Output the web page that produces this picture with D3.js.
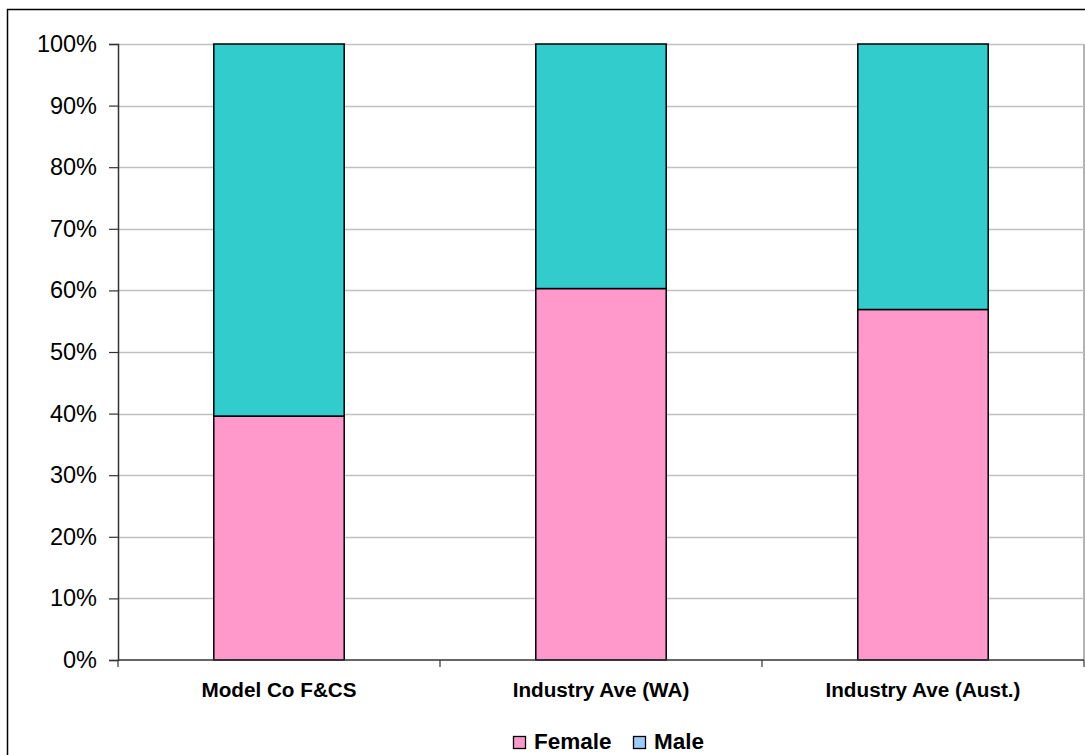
<!DOCTYPE html>
<html>
<head>
<meta charset="utf-8">
<script src="https://cdn.jsdelivr.net/npm/d3@7"></script>
<style>
  html, body { margin: 0; padding: 0; background: #fff; }
  svg { display: block; font-family: "Liberation Sans", Arial, sans-serif; }
</style>
</head>
<body>
<svg id="chart" width="1085" height="755"></svg>
<script>
// Gender split by organisation (share of headcount, %)
const categories = ["Model Co F&CS", "Industry Ave (WA)", "Industry Ave (Aust.)"];
const femaleShare = [39.6, 60.3, 56.9];
const maleShare = [60.4, 39.7, 43.1];
const seriesNames = ["Female", "Male"];
const yTicks = [0, 10, 20, 30, 40, 50, 60, 70, 80, 90, 100];

const colors = { Female: "#FF99CC", Male: "#33CCCC" };
const legendColors = { Female: "#FF99CC", Male: "#99CCFF" };

const svg = d3.select("#chart");

// outer chart frame
svg.append("rect")
  .attr("x", 7.5).attr("y", 9.5)
  .attr("width", 1090).attr("height", 760)
  .attr("fill", "#fff").attr("stroke", "#000").attr("stroke-width", 1.5);

const plot = { left: 118, right: 1084, top: 44, bottom: 660 };

const x = d3.scaleBand().domain(categories).range([plot.left, plot.right]).paddingInner(0).paddingOuter(0);
const y = d3.scaleLinear().domain([0, 100]).range([plot.bottom, plot.top]);

// plot area border on the right
svg.append("line")
  .attr("x1", plot.right).attr("x2", plot.right)
  .attr("y1", plot.top).attr("y2", plot.bottom)
  .attr("stroke", "#9a9a9a").attr("stroke-width", 1.5);

// horizontal gridlines
svg.append("g").selectAll("line")
  .data(yTicks.filter(d => d > 0))
  .join("line")
  .attr("x1", plot.left).attr("x2", plot.right)
  .attr("y1", d => Math.round(y(d)) + 0.5).attr("y2", d => Math.round(y(d)) + 0.5)
  .attr("stroke", "#c0c0c0").attr("stroke-width", 1.5);

// stacked bars
const rows = categories.map((c, i) => ({ category: c, Female: femaleShare[i], Male: maleShare[i] }));
const stacked = d3.stack().keys(seriesNames)(rows);
const barWidth = x.bandwidth() * 0.405;

svg.append("g").selectAll("g")
  .data(stacked)
  .join("g")
  .attr("fill", s => colors[s.key])
  .selectAll("rect")
  .data(s => s)
  .join("rect")
  .attr("x", d => x(d.data.category) + (x.bandwidth() - barWidth) / 2)
  .attr("width", barWidth)
  .attr("y", d => y(d[1]))
  .attr("height", d => y(d[0]) - y(d[1]))
  .attr("stroke", "#000").attr("stroke-width", 1.5);

// y axis
const yAxis = svg.append("g")
  .attr("transform", `translate(${plot.left},0)`)
  .call(d3.axisLeft(y).tickValues(yTicks).tickSize(9).tickPadding(12).tickFormat(d => d + "%"));
yAxis.select(".domain").attr("stroke", "#333").attr("stroke-width", 1.5);
yAxis.selectAll(".tick line").attr("stroke", "#333").attr("stroke-width", 1.2);
yAxis.selectAll(".tick text").attr("font-size", 23.5).attr("fill", "#000")
  .attr("font-family", "'Liberation Sans', Arial, sans-serif");

// x axis with boundary ticks between categories
const xAxis = svg.append("g")
  .attr("transform", `translate(0,${plot.bottom})`);
xAxis.append("line")
  .attr("x1", plot.left).attr("x2", plot.right)
  .attr("stroke", "#333").attr("stroke-width", 1.5);
const boundaries = categories.map(c => x(c)).concat([plot.right]);
xAxis.selectAll("line.tick")
  .data(boundaries)
  .join("line")
  .attr("class", "tick")
  .attr("x1", d => d).attr("x2", d => d)
  .attr("y1", 0).attr("y2", 7)
  .attr("stroke", "#333").attr("stroke-width", 1.2);
xAxis.selectAll("text")
  .data(categories)
  .join("text")
  .attr("x", d => x(d) + x.bandwidth() / 2)
  .attr("y", 37)
  .attr("text-anchor", "middle")
  .attr("font-size", 20.7).attr("font-weight", "bold")
  .text(d => d);

// legend
const legend = svg.append("g").attr("transform", "translate(0,736)");
const legendItems = [
  { key: "Female", x: 513 },
  { key: "Male", x: 633 }
];
const li = legend.selectAll("g").data(legendItems).join("g")
  .attr("transform", d => `translate(${d.x},0)`);
li.append("rect")
  .attr("x", 0.5).attr("y", 0.5)
  .attr("width", 12).attr("height", 12)
  .attr("fill", d => legendColors[d.key])
  .attr("stroke", "#000").attr("stroke-width", 1.3);
li.append("text")
  .attr("x", 21).attr("y", 13)
  .attr("font-size", 22.5).attr("font-weight", "bold")
  .text(d => d.key);
</script>
</body>
</html>
